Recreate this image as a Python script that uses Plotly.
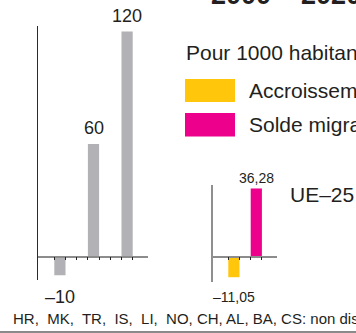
import plotly.graph_objects as go

# Scale key bars (per 1000 inhabitants)
scale_values = [-10, 60, 120]

# EU-25 components (per 1000 inhabitants)
series_names = ["Accroissement naturel", "Solde migratoire"]
ue_values = [-11.05, 36.28]
ue_label = "UE–25"

title_text = "2000 – 2020"
unit_text = "Pour 1000 habitants"
note_text = "HR,  MK,  TR,  IS,  LI,  NO, CH, AL, BA, CS: non disponible"

GRAY = "#b2b2b6"
COLORS = ["#ffc60b", "#ec008c"]
TEXT = "#231f20"
FONT = "Liberation Sans"

W, H = 356, 333


def fx(p):
    return p / W


def fy(p):
    return (H - p) / H


def fmt(v):
    s = f"{abs(v):g}".replace(".", ",")
    return ("–" + s) if v < 0 else s


# common vertical scale: pixels per unit, and pixel row of the zero line
PPU = 1.875
ZERO = 256.5
SLOT = 11.2


def yrange(top_px, bottom_px):
    return [(ZERO - bottom_px) / PPU, (ZERO - top_px) / PPU]


def xrange(left_px, right_px, first_tick_px):
    return [1 - (first_tick_px - left_px) / SLOT, 1 + (right_px - first_tick_px) / SLOT]


fig = go.Figure()

# scale key: one bar every three slots
scale_x = [1.5 + 3 * i for i in range(len(scale_values))]
fig.add_trace(go.Bar(x=scale_x, y=scale_values, width=1, marker_color=GRAY,
                     marker_line_width=0, xaxis="x", yaxis="y", showlegend=False))

# EU-25 bars: one bar every two slots
ue_x = [1.5 + 2 * i for i in range(len(ue_values))]
for i, (name, v) in enumerate(zip(series_names, ue_values)):
    fig.add_trace(go.Bar(x=[ue_x[i]], y=[v], width=1, name=name,
                         marker_color=COLORS[i], marker_line_width=0,
                         xaxis="x2", yaxis="y2", showlegend=False))

annotations = []

# value labels
for x, v in zip(scale_x, scale_values):
    annotations.append(dict(x=x, y=v, xref="x", yref="y", text=fmt(v), showarrow=False,
                            xanchor="center", yanchor="bottom" if v >= 0 else "top",
                            yshift=4 if v >= 0 else -10,
                            font=dict(family=FONT, size=18, color=TEXT)))
for x, v in zip(ue_x, ue_values):
    annotations.append(dict(x=x, y=v, xref="x2", yref="y2", text=fmt(v), showarrow=False,
                            xanchor="center", yanchor="bottom" if v >= 0 else "top",
                            yshift=0 if v >= 0 else -10,
                            font=dict(family=FONT, size=14, color=TEXT)))

# title, unit, legend, notes
annotations += [
    dict(x=fx(209), y=fy(12), xref="paper", yref="paper", text=f"<b>{title_text}</b>",
         showarrow=False, xanchor="left", yanchor="bottom",
         font=dict(family=FONT, size=27, color=TEXT)),
    dict(x=fx(184), y=fy(52.5), xref="paper", yref="paper", text=unit_text,
         showarrow=False, xanchor="left", yanchor="middle",
         font=dict(family=FONT, size=21, color=TEXT)),
    dict(x=fx(288), y=fy(194.5), xref="paper", yref="paper", text=ue_label,
         showarrow=False, xanchor="left", yanchor="middle",
         font=dict(family=FONT, size=21, color=TEXT)),
    dict(x=fx(11), y=fy(318.5), xref="paper", yref="paper", text=note_text,
         showarrow=False, xanchor="left", yanchor="middle",
         font=dict(family=FONT, size=15, color=TEXT)),
]

shapes = []
legend_rows = [(79, 102), (113, 136.5)]
for (top, bot), name, col in zip(legend_rows, series_names, COLORS):
    shapes.append(dict(type="rect", xref="paper", yref="paper",
                       x0=fx(185), x1=fx(235), y0=fy(bot), y1=fy(top),
                       fillcolor=col, line_width=0))
    annotations.append(dict(x=fx(247), y=fy((top + bot) / 2), xref="paper", yref="paper",
                            text=name, showarrow=False, xanchor="left", yanchor="middle",
                            font=dict(family=FONT, size=21, color=TEXT)))

# bottom rule
shapes.append(dict(type="rect", xref="paper", yref="paper", x0=0, x1=1,
                   y0=0, y1=fy(331), fillcolor="#8a8a8a", line_width=0))

common_x = dict(showgrid=False, zeroline=False, showticklabels=False,
                showline=True, linecolor="#8c8c8c", linewidth=1.5,
                ticks="outside", ticklen=3, tickwidth=1, tickcolor="#222",
                anchor="free", position=fy(ZERO), fixedrange=True)
common_y = dict(showgrid=False, zeroline=False, showticklabels=False, ticks="",
                showline=True, fixedrange=True)

fig.update_layout(
    width=W, height=H,
    margin=dict(l=0, r=0, t=0, b=0),
    paper_bgcolor="white", plot_bgcolor="rgba(0,0,0,0)",
    barmode="overlay",
    xaxis=dict(common_x, domain=[fx(38), fx(148)], range=xrange(38, 148, 54.3),
               tickvals=list(range(1, 9))),
    yaxis=dict(common_y, domain=[fy(279.5), fy(26)], range=yrange(26, 279.5),
               anchor="x", linecolor="#2b2b2b", linewidth=1),
    xaxis2=dict(common_x, domain=[fx(213), fx(277)], range=xrange(213, 277, 228.3),
                tickvals=list(range(1, 5))),
    yaxis2=dict(common_y, domain=[fy(282), fy(185)], range=yrange(185, 282),
                anchor="x2", linecolor="#8f8f8f", linewidth=1.5),
    annotations=annotations,
    shapes=shapes,
    showlegend=False,
)

fig.write_html("out.html")
